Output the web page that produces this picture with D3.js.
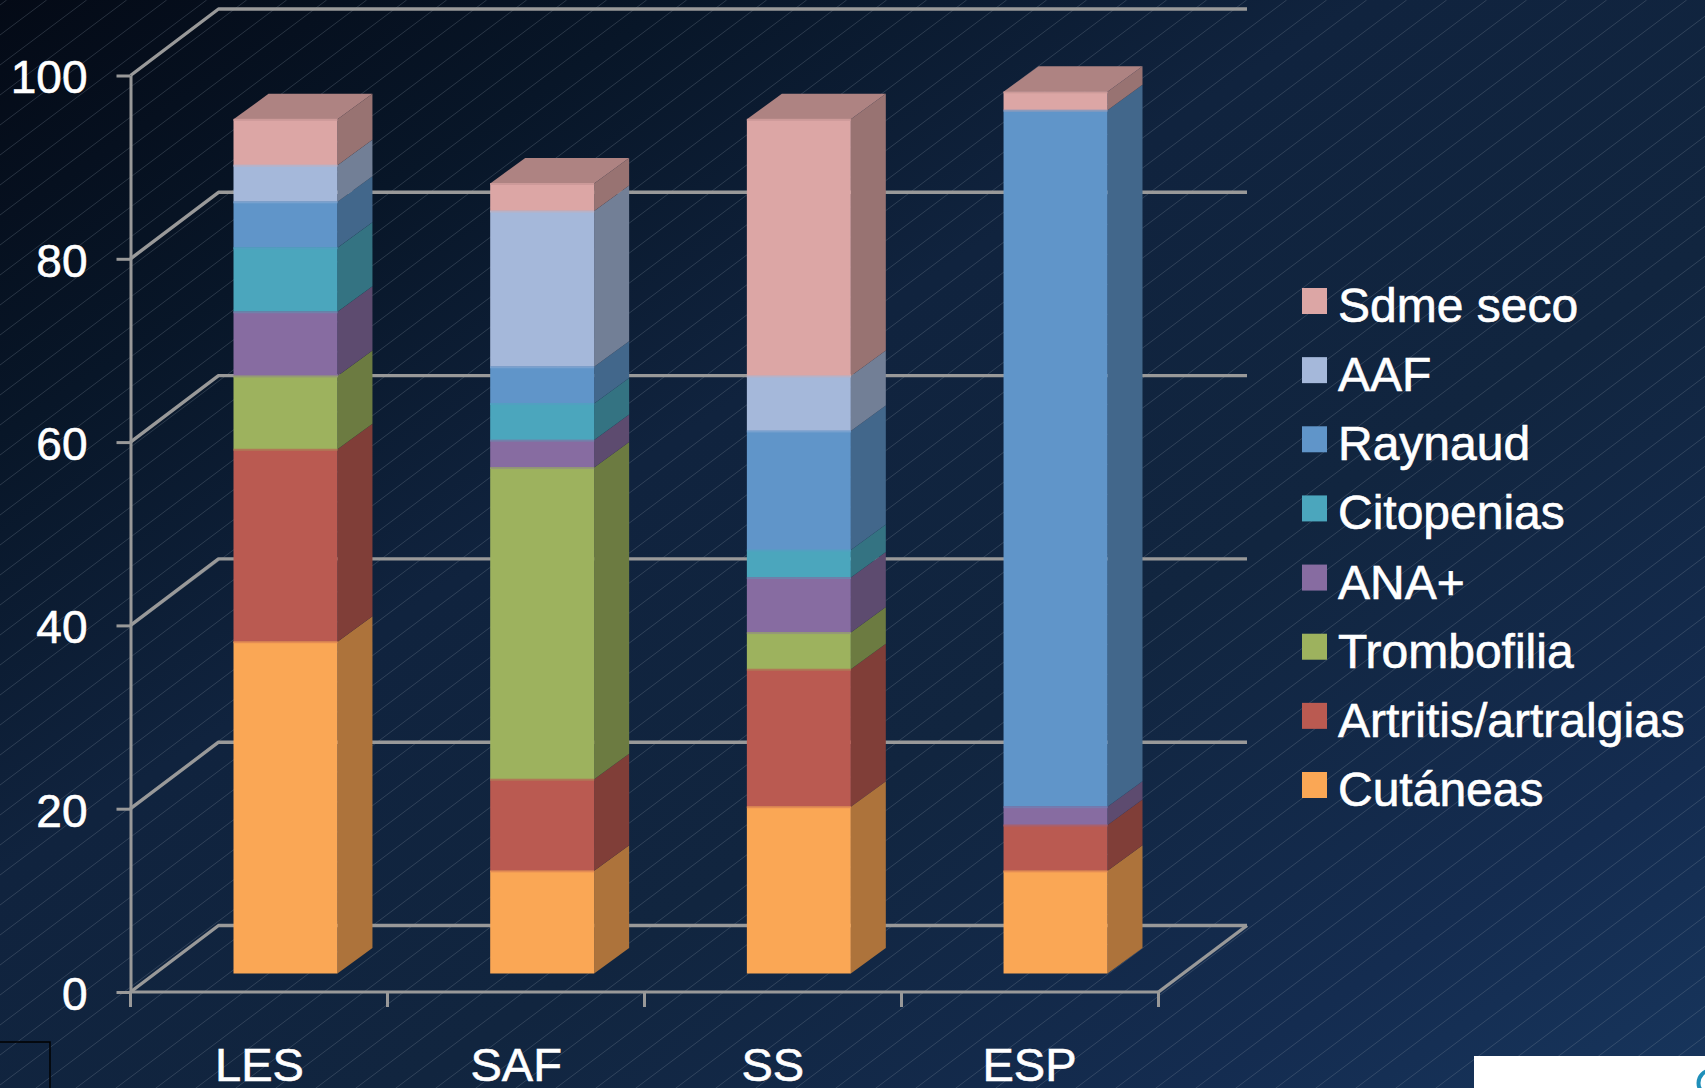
<!DOCTYPE html>
<html lang="es">
<head>
<meta charset="utf-8">
<title>Manifestaciones por enfermedad</title>
<script src="https://cdn.jsdelivr.net/npm/d3@7/dist/d3.min.js"></script>
<style>
  html, body { margin: 0; padding: 0; background: #10233e; overflow: hidden; }
  svg { display: block; }
  text { font-family: "Liberation Sans", Arial, sans-serif; fill: #fff; stroke: #fff; stroke-width: 0.6; }
</style>
</head>
<body>
<svg id="chart" width="1705" height="1088"></svg>
<script>
// Chart data: one array per manifestation, one value per disease group.
const groups = ["LES", "SAF", "SS", "ESP"];
const seriesNames = ["Cutáneas", "Artritis/artralgias", "Trombofilia", "ANA+", "Citopenias", "Raynaud", "AAF", "Sdme seco"];
const cutaneas   = [36.2, 11.2, 18.2, 11.2];
const artritis   = [21, 10, 15, 5];
const trombofilia = [8, 34, 4, 0];
const ana        = [7, 3, 6, 2];
const citopenias = [7, 4, 3, 0];
const raynaud    = [5, 4, 13, 76];
const aaf        = [4, 17, 6, 0];
const sdmeSeco   = [5, 3, 28, 2];
const seriesValues = [cutaneas, artritis, trombofilia, ana, citopenias, raynaud, aaf, sdmeSeco];
const seriesColors = ["#faa755", "#ba5a51", "#9db25e", "#876ca1", "#4ba6bd", "#6095c9", "#a5b8da", "#dca6a5"];
const yTicks = [0, 20, 40, 60, 80, 100];

const svg = d3.select("#chart");
const W = 1705, H = 1088;
const defs = svg.append("defs");

// Backdrop: diagonal blue gradient with a fine hatch.
const bg = defs.append("linearGradient").attr("id", "bg")
  .attr("x1", 0).attr("y1", 0).attr("x2", 1).attr("y2", 1);
[[0, "#040a16"], [0.2, "#081628"], [0.4, "#10233e"], [0.62, "#11253f"], [0.85, "#142c50"], [1, "#17355c"]]
  .forEach(([o, c]) => bg.append("stop").attr("offset", o).attr("stop-color", c));
svg.append("rect").attr("width", W).attr("height", H).attr("fill", "url(#bg)");

const hatchOffsets = d3.range(5, 3000, 30);
svg.append("g").selectAll("line").data(hatchOffsets).join("line")
  .attr("x1", 0).attr("y1", d => d)
  .attr("x2", d => d / 0.75).attr("y2", 0)
  .attr("stroke", "#8a97a8").attr("stroke-opacity", 0.3).attr("stroke-width", 0.9);

// Scales: y is the front plane of the box, x divides it into four bands.
const y = d3.scaleLinear().domain([0, 100]).range([992, 75.5]);
const x = d3.scaleBand().domain(groups).range([130.5, 1158.5]).paddingInner(0.595).paddingOuter(0.3);
const color = d3.scaleOrdinal(seriesNames, seriesColors);

const wall = { dx: 88, dy: -66.5 };   // front plane to back wall
const seat = { dx: 26, dy: -18.5 };   // front plane to the bars' front faces
const depth = { dx: 35, dy: -25.5 };  // depth of each bar
const gridColor = "#999999";
const line = d3.line();

// Back wall and floor lines.
const grid = svg.append("g").attr("fill", "none").attr("stroke", gridColor);
grid.selectAll("path.grid").data(yTicks).join("path").attr("class", "grid")
  .attr("stroke-width", 3.4).attr("stroke-linejoin", "round")
  .attr("d", d => line([[130.5, y(d)], [130.5 + wall.dx, y(d) + wall.dy], [1247, y(d) + wall.dy]]));
grid.append("path").attr("stroke-width", 3.4)
  .attr("d", line([[1158.5, y(0)], [1247, y(0) + wall.dy]]));

// Axes.
const axisY = svg.append("g").attr("transform", "translate(130.5,0)")
  .call(d3.axisLeft(y).tickValues(yTicks).tickSize(14).tickSizeOuter(0).tickPadding(29));
axisY.selectAll(".tick line").attr("stroke", gridColor).attr("stroke-width", 3);
axisY.select(".domain").attr("stroke", gridColor).attr("stroke-width", 3);
axisY.selectAll("text").attr("font-size", 46).attr("dy", "0.38em").attr("fill", "#fff");

const axisX = svg.append("g").attr("transform", `translate(0,${y(0)})`)
  .call(d3.axisBottom(x).tickSize(0).tickSizeOuter(0).tickPadding(78));
axisX.select(".domain").remove();
axisX.selectAll("text").attr("font-size", 47).attr("dy", "0.24em").attr("fill", "#fff");

const boundaries = d3.range(groups.length + 1).map(i => 130.5 + i * (1158.5 - 130.5) / groups.length);
svg.append("path").attr("fill", "none").attr("stroke", gridColor).attr("stroke-width", 3)
  .attr("d", line([[x.range()[0], y(0)], [x.range()[1], y(0)]]));
svg.append("g").selectAll("line").data(boundaries).join("line")
  .attr("x1", d => d).attr("x2", d => d).attr("y1", y(0)).attr("y2", y(0) + 15)
  .attr("stroke", gridColor).attr("stroke-width", 3);

// Stacked prisms: side face, front face, then the lid from the top series.
const rows = groups.map((g, i) => {
  const row = { group: g };
  seriesNames.forEach((s, k) => { row[s] = seriesValues[k][i]; });
  return row;
});
const layers = d3.stack().keys(seriesNames)(rows);
const shade = (c, f) => { const q = d3.rgb(c); return d3.rgb(q.r * f, q.g * f, q.b * f).formatHex(); };

const bars = svg.append("g");
groups.forEach((g, i) => {
  const x0 = x(g) + seat.dx, x1 = x0 + x.bandwidth();
  const yAt = v => y(v) + seat.dy;
  const segs = layers.map(l => ({ key: l.key, a: l[i][0], b: l[i][1] })).filter(s => s.b > s.a);
  const bar = bars.append("g");

  bar.selectAll("path.side").data(segs).join("path").attr("class", "side")
    .attr("fill", d => shade(color(d.key), 0.69))
    .attr("d", d => line([[x1, yAt(d.a)], [x1 + depth.dx, yAt(d.a) + depth.dy],
                          [x1 + depth.dx, yAt(d.b) + depth.dy], [x1, yAt(d.b)]]) + "Z");

  bar.selectAll("rect.front").data(segs).join("rect").attr("class", "front")
    .attr("x", x0).attr("width", x.bandwidth())
    .attr("y", d => yAt(d.b)).attr("height", d => yAt(d.a) - yAt(d.b))
    .attr("fill", d => color(d.key));

  const last = segs[segs.length - 1];
  const lidColor = shade(color(last.key), 0.79);
  bar.append("path").attr("fill", lidColor)
    .attr("d", line([[x0, yAt(last.b)], [x0 + depth.dx, yAt(last.b) + depth.dy],
                     [x1 + depth.dx, yAt(last.b) + depth.dy], [x1, yAt(last.b)]]) + "Z");

  // Soft two-pixel seam where one colour meets the next.
  bar.selectAll("rect.seam").data(segs).join("rect").attr("class", "seam")
    .attr("x", x0).attr("width", x.bandwidth())
    .attr("y", d => yAt(d.b) - 0.5).attr("height", 2)
    .attr("fill", (d, k) => d3.interpolateRgb(color(d.key),
      k < segs.length - 1 ? color(segs[k + 1].key) : lidColor)(0.35));
});

// Legend, top series first.
const legendOrder = seriesNames.slice().reverse();
const legendY = d3.scalePoint().domain(legendOrder).range([301, 785]);
const legend = svg.append("g").selectAll("g").data(legendOrder).join("g")
  .attr("transform", d => `translate(1302,${legendY(d)})`);
legend.append("rect").attr("y", -13).attr("width", 25).attr("height", 26).attr("fill", d => color(d));
legend.append("text").attr("x", 36).attr("y", 21).attr("font-size", 48).text(d => d);

// Page furniture along the bottom edge: corner frame and white footer patch.
svg.append("path").attr("fill", "none").attr("stroke", "#000").attr("stroke-width", 1.5)
  .attr("d", line([[0, 1042], [50, 1042], [50, 1088]]));
svg.append("rect").attr("x", 1474).attr("y", 1056).attr("width", 231).attr("height", 32).attr("fill", "#fff");
svg.append("circle").attr("cx", 1711).attr("cy", 1083).attr("r", 12.5)
  .attr("fill", "none").attr("stroke", "#1f8fb9").attr("stroke-width", 4);
</script>
</body>
</html>
